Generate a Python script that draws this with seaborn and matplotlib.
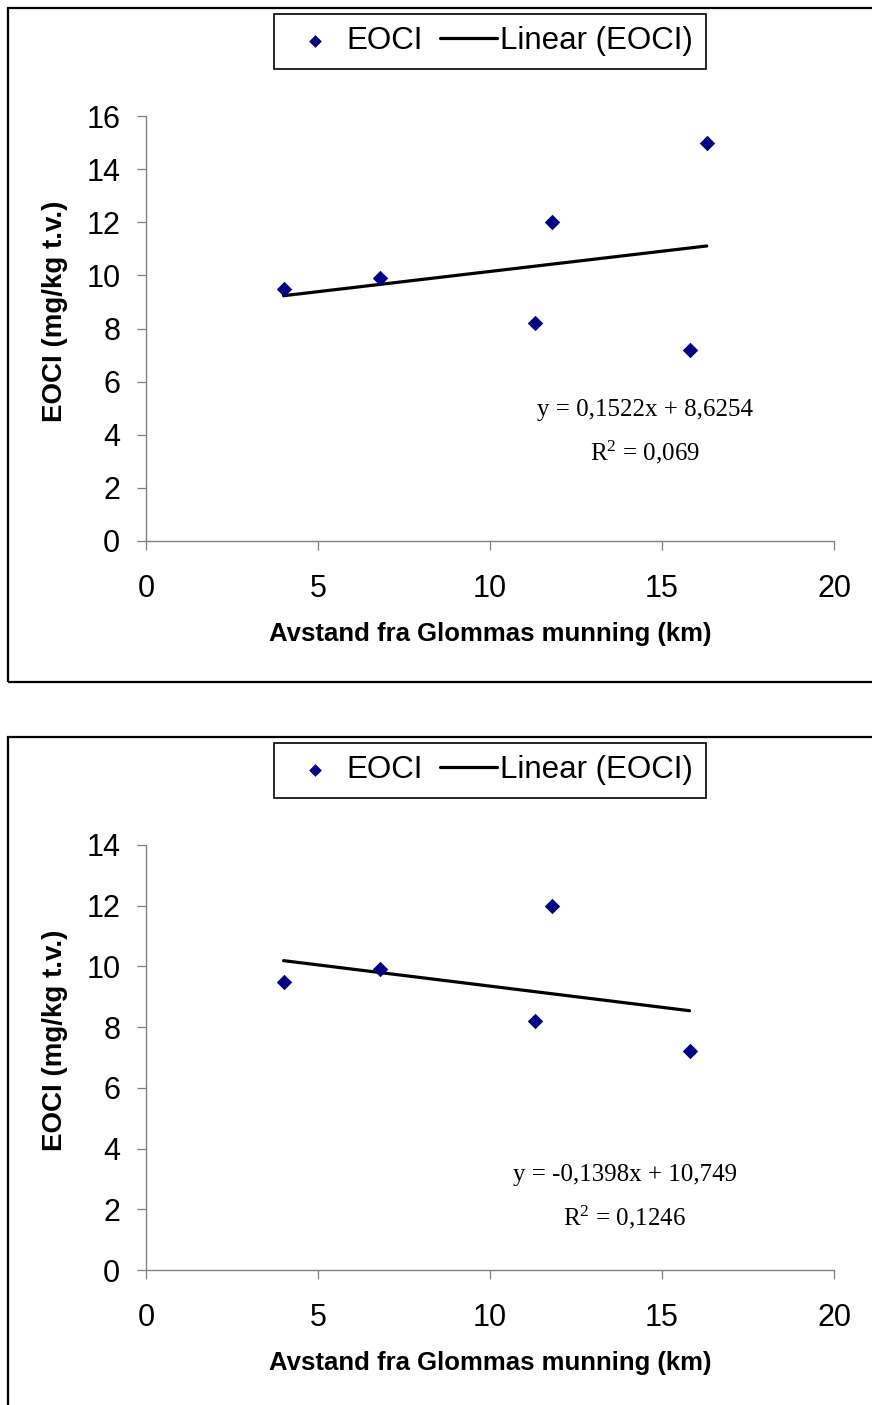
import numpy as np
import pandas as pd
import matplotlib
matplotlib.use("Agg")
import matplotlib.pyplot as plt
from matplotlib.patches import Rectangle
import seaborn as sns

# ---------------- data ----------------
dist_all = [4.0, 6.8, 11.3, 11.8, 15.8, 16.3]
eocl_all = [9.5, 9.9, 8.2, 12.0, 7.2, 15.0]
dist_sub = [4.0, 6.8, 11.3, 11.8, 15.8]
eocl_sub = [9.5, 9.9, 8.2, 12.0, 7.2]

x_ticks = [0, 5, 10, 15, 20]
y_ticks_top = [0, 2, 4, 6, 8, 10, 12, 14, 16]
y_ticks_bottom = [0, 2, 4, 6, 8, 10, 12, 14]

eq_top = ["y = 0,1522x + 8,6254", r"R$^{2}$ = 0,069"]
eq_bottom = ["y = -0,1398x + 10,749", r"R$^{2}$ = 0,1246"]

x_label = "Avstand fra Glommas munning (km)"
y_label = "EOCI (mg/kg t.v.)"
legend_labels = ["EOCI", "Linear (EOCI)"]

# ---------------- style ----------------
sns.set_theme(style="ticks")
plt.rcParams["font.family"] = ["Liberation Sans", "DejaVu Sans"]
plt.rcParams["mathtext.fontset"] = "custom"
plt.rcParams["mathtext.rm"] = "Liberation Serif"
plt.rcParams["mathtext.it"] = "Liberation Serif"
plt.rcParams["text.color"] = "black"
plt.rcParams["axes.labelcolor"] = "black"
plt.rcParams["xtick.color"] = "black"
plt.rcParams["ytick.color"] = "black"

W, H = 872, 1405
fig = plt.figure(figsize=(W / 100, H / 100), dpi=100)
fig.patch.set_facecolor("white")

AX_GRAY = "#808080"
NAVY = "#000080"


def fx(px):
    return px / W


def fy(py):
    return 1 - py / H


def panel(frame_top, ax_top_px, ax_bot_px, xs, ys, yticks, eq, eq_pos):
    # outer chart frame
    fig.patches.append(Rectangle((fx(8), fy(frame_top + 674)), fx(900), 674 / H,
                                 transform=fig.transFigure, fill=False,
                                 edgecolor="black", linewidth=1.6, zorder=0))
    ax = fig.add_axes([fx(146), fy(ax_bot_px), fx(834 - 146), (ax_bot_px - ax_top_px) / H])
    ax.set_facecolor("none")
    df = pd.DataFrame({"x": xs, "y": ys})
    sns.scatterplot(data=df, x="x", y="y", marker="D", s=62, color=NAVY,
                    linewidth=0, ax=ax, label=legend_labels[0], zorder=3)
    sns.regplot(data=df, x="x", y="y", scatter=False, ci=None, truncate=True,
                color="black", line_kws={"linewidth": 2.3, "zorder": 2},
                ax=ax, label=legend_labels[1])
    ax.set_xlim(0, 20)
    ax.set_ylim(yticks[0], yticks[-1])
    ax.set_xticks(x_ticks)
    ax.set_yticks(yticks)
    sns.despine(ax=ax)
    for s in ["left", "bottom"]:
        ax.spines[s].set_color(AX_GRAY)
        ax.spines[s].set_linewidth(1.0)
    ax.tick_params(axis="both", direction="out", length=6.5, width=0.9,
                   color=AX_GRAY, labelsize=22, labelcolor="black")
    ax.tick_params(axis="x", pad=17)
    ax.tick_params(axis="y", pad=12)
    ax.set_xlabel(x_label, fontsize=18.5, fontweight="bold", color="black")
    ax.set_ylabel(y_label, fontsize=20, fontweight="bold", color="black")
    ax.xaxis.set_label_coords(0.5, -0.19)
    ax.yaxis.set_label_coords(-0.113, 0.54)
    # trend equation
    ax.text(eq_pos[0], eq_pos[1], eq[0], transform=ax.transAxes, ha="center",
            va="center", fontsize=18, family="Liberation Serif", color="black")
    ax.text(eq_pos[0], eq_pos[2], eq[1], transform=ax.transAxes, ha="center",
            va="center", fontsize=18, family="Liberation Serif", color="black")
    # legend
    leg = ax.legend(loc="center", bbox_to_anchor=(fx(490), fy(frame_top + 33)),
                    bbox_transform=fig.transFigure, ncol=2, fontsize=22.5,
                    frameon=True, fancybox=False, framealpha=1, edgecolor="black",
                    handlelength=1.8, handletextpad=0.12, columnspacing=0.55,
                    borderpad=0.4, borderaxespad=0)
    leg.get_frame().set_linewidth(1.2)
    for t in leg.get_texts():
        t.set_color("black")
    for h in leg.legend_handles:
        if hasattr(h, "set_sizes"):
            h.set_sizes([42])
    return ax


panel(8, 116, 541, dist_all, eocl_all, y_ticks_top, eq_top, (0.725, 0.308, 0.209))
panel(737, 845, 1270, dist_sub, eocl_sub, y_ticks_bottom, eq_bottom, (0.696, 0.2235, 0.1247))

fig.savefig("out.png", dpi=100, facecolor="white")
